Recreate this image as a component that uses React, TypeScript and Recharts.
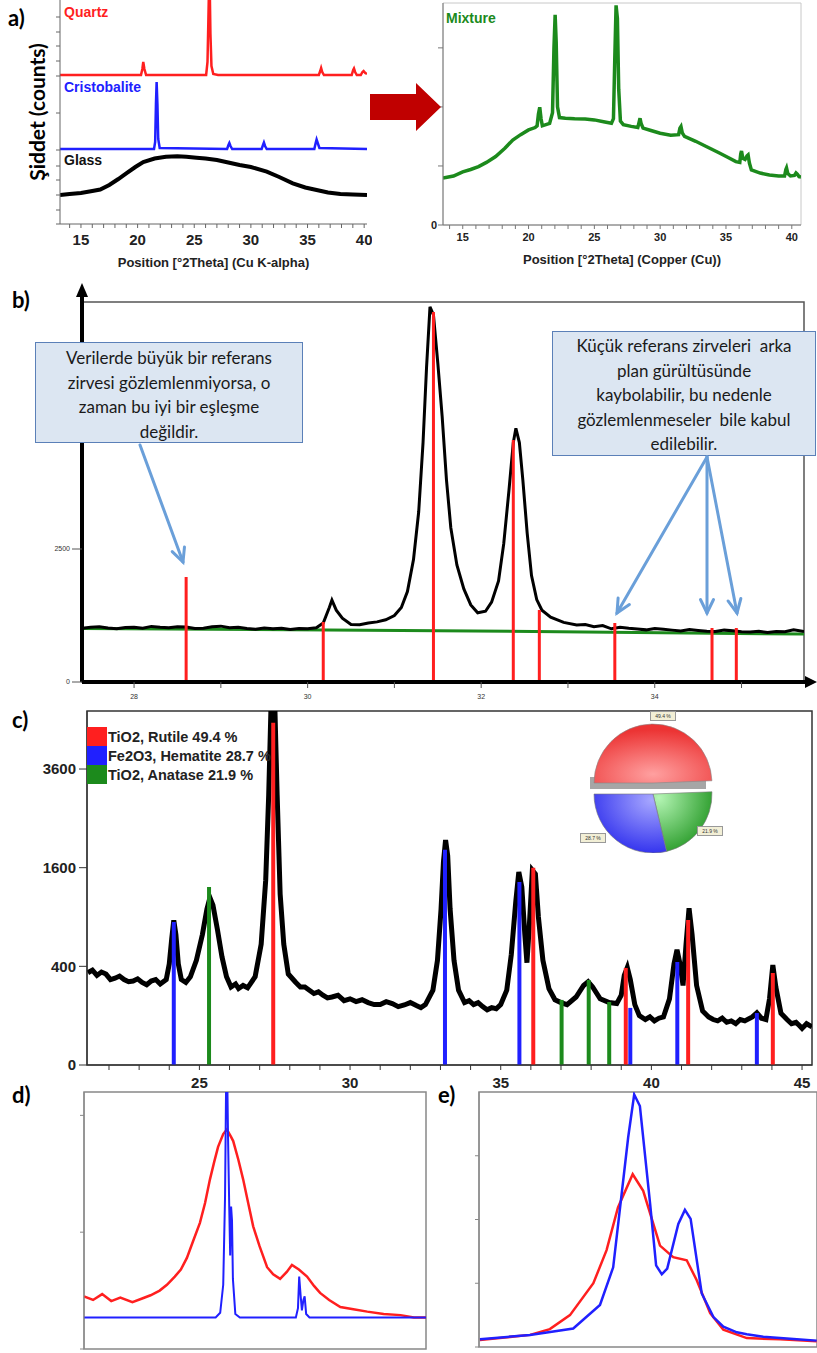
import React from 'react'
import {
  LineChart, ComposedChart, Line, XAxis, YAxis, ReferenceLine, ReferenceArea, PieChart, Pie, Cell,
} from 'recharts'

type Pt = [number, number]

// panel a: reference patterns (stacked, arbitrary units)
const quartz: Pt[] = [
  [13.15, 149], [20.3, 149], [20.42, 155], [20.5, 162], [20.6, 155], [20.75, 149], [26.05, 149], [26.17, 162],
  [26.24, 200], [26.3, 235], [26.37, 235], [26.43, 190], [26.52, 158], [26.68, 150], [27.1, 149], [36.0, 149],
  [36.12, 153], [36.2, 156], [36.3, 152], [36.45, 149], [38.9, 149], [39.03, 154], [39.1, 155.5], [39.2, 152],
  [39.35, 149], [39.7, 149], [39.85, 152], [39.95, 153], [40.1, 151], [40.25, 150],
]
const cristobalite: Pt[] = [
  [13.15, 75], [21.45, 75], [21.55, 82], [21.62, 120], [21.68, 142], [21.75, 120], [21.82, 85], [21.95, 76],
  [27.9, 75], [28.02, 79], [28.1, 81], [28.2, 78], [28.35, 75], [30.95, 75], [31.07, 79], [31.15, 81.5],
  [31.25, 78], [31.4, 75], [35.6, 75], [35.72, 81], [35.8, 84.5], [35.9, 81], [36.05, 76], [40.25, 75],
]
const glass: Pt[] = [
  [13.15, 29], [14, 30], [15, 31], [16, 33], [16.7, 34.5], [17.5, 39], [18.3, 45], [19, 50.7], [19.8, 57],
  [20.5, 62], [21.5, 65.5], [22.5, 67.3], [23.5, 67.8], [24.3, 67.3], [25.2, 66.3], [26, 65.5], [27, 64],
  [28, 61.5], [29, 59], [30, 57], [31.4, 52.3], [32.5, 47], [33.7, 40.7], [34.8, 36.5], [35.8, 34],
  [36.8, 31.5], [37.9, 30], [39, 29.5], [40.25, 29],
]
const aLeftTicksX = [14, 15, 16, 17, 18, 19, 20, 21, 22, 23, 24, 25, 26, 27, 28, 29, 30, 31, 32, 33, 34, 35, 36, 37, 38, 39, 40]
const aLeftTicksY = [0, 14, 29, 44, 58, 74, 111, 148, 163, 178, 192, 207]

const mixture: Pt[] = [
  [13.5, 797], [14.3, 830], [15, 900], [15.6, 940], [16.2, 990], [16.8, 1060], [17.5, 1160], [18.2, 1300],
  [18.8, 1440], [19.4, 1530], [20, 1610], [20.5, 1650], [20.65, 1680], [20.75, 1880], [20.85, 1995], [20.95, 1800],
  [21.05, 1680], [21.6, 1720], [21.82, 1900], [21.93, 3000], [22.02, 3560], [22.1, 3100], [22.2, 2000],
  [22.35, 1820], [22.8, 1810], [23.5, 1800], [24.3, 1795], [25, 1780], [25.7, 1750], [26.3, 1725], [26.45, 1800],
  [26.55, 2800], [26.65, 3720], [26.75, 3500], [26.85, 2300], [26.98, 1760], [27.2, 1700], [27.8, 1670],
  [28.3, 1650], [28.4, 1740], [28.47, 1808], [28.55, 1720], [28.7, 1640], [29.3, 1600], [30, 1555], [30.8, 1520],
  [31.4, 1530], [31.5, 1640], [31.58, 1667], [31.68, 1560], [31.85, 1500], [32.7, 1418], [33.5, 1330],
  [34.5, 1220], [35.2, 1140], [35.75, 1073], [36.05, 1060], [36.12, 1200], [36.18, 1254], [36.28, 1130],
  [36.45, 1110], [36.6, 1170], [36.68, 1186], [36.78, 1050], [36.93, 932], [37.6, 880], [38.3, 847], [39, 830],
  [39.45, 830], [39.55, 940], [39.6, 966], [39.7, 870], [39.9, 830], [40.2, 840], [40.32, 881], [40.42, 860],
  [40.55, 820], [40.7, 814],
]
const aRightTicksX = [14, 15, 16, 17, 18, 19, 20, 21, 22, 23, 24, 25, 26, 27, 28, 29, 30, 31, 32, 33, 34, 35, 36, 37, 38, 39, 40]
const aRightTicksY = [0, 1000, 2000, 3000]

// panel b
const bObserved: Pt[] = [
  [27.4, 1010], [27.5, 1030], [27.6, 1040], [27.7, 1015], [27.8, 1000], [27.9, 1025], [28, 1030], [28.1, 1010],
  [28.2, 1045], [28.3, 1030], [28.4, 1020], [28.5, 1040], [28.6, 1035], [28.7, 1005], [28.8, 1010], [28.9, 1040],
  [29, 1050], [29.1, 1020], [29.2, 1030], [29.3, 1005], [29.4, 990], [29.5, 1015], [29.6, 1000], [29.7, 1010],
  [29.8, 985], [29.9, 1005], [30, 1000], [30.1, 1020], [30.18, 1110],
  [30.25, 1400], [30.28, 1540], [30.33, 1350], [30.4, 1200], [30.5, 1080], [30.6, 1075], [30.7, 1110],
  [30.8, 1130], [30.9, 1170], [31.0, 1250], [31.08, 1400], [31.15, 1700], [31.22, 2300], [31.28, 3200],
  [31.33, 4500], [31.37, 5900], [31.41, 7050], [31.45, 6900], [31.5, 6000], [31.55, 5000], [31.6, 3800],
  [31.65, 2900], [31.72, 2200], [31.8, 1750], [31.88, 1450], [31.96, 1300], [32.05, 1330], [32.12, 1500],
  [32.2, 1900], [32.26, 2600], [32.32, 3600], [32.37, 4500], [32.4, 4770], [32.44, 4500], [32.48, 3800],
  [32.53, 2800], [32.58, 2000], [32.64, 1550], [32.7, 1350], [32.8, 1220], [32.95, 1120], [33.1, 1070],
  [33.2, 1080], [33.3, 1040], [33.4, 1060], [33.5, 1000], [33.6, 1030], [33.7, 1010], [33.8, 995], [33.9, 980],
  [34.0, 1005], [34.1, 990], [34.2, 975], [34.3, 960], [34.4, 985], [34.5, 970], [34.6, 955], [34.7, 950],
  [34.8, 975], [34.9, 965], [35.0, 945], [35.1, 940], [35.2, 955], [35.3, 930], [35.4, 950], [35.5, 945],
  [35.6, 980], [35.72, 950],
]
const bBackground: Pt[] = [[27.4, 1005], [31.5, 965], [35.72, 900]]
const bRefPos = [28.6, 30.18, 31.45, 32.37, 32.67, 33.54, 34.66, 34.94]
const bRefHeight = [1974, 1128, 6955, 4549, 1353, 1109, 1015, 1015]
const bTicksX = [28, 29, 30, 31, 32, 33, 34, 35]
const bTicksY = [0, 2500]

// panel c
const cObserved: Pt[] = [
  [21.3, 350], [21.45, 370], [21.6, 330], [21.75, 355], [21.9, 340], [22.05, 300], [22.2, 310], [22.35, 325],
  [22.5, 300], [22.65, 285], [22.8, 290], [22.95, 305], [23.1, 280], [23.25, 265], [23.4, 290], [23.55, 300],
  [23.7, 270], [23.9, 300], [24.0, 420], [24.08, 650], [24.15, 860], [24.22, 700], [24.3, 420], [24.4, 300],
  [24.55, 280], [24.7, 320], [24.9, 450], [25.1, 700], [25.25, 1000], [25.35, 1150], [25.45, 1050], [25.6, 750],
  [25.75, 480], [25.9, 320], [26.05, 250], [26.2, 270], [26.3, 240], [26.45, 260], [26.6, 245], [26.85, 320],
  [27.05, 600], [27.2, 1400], [27.3, 3000], [27.38, 5400], [27.5, 5400], [27.58, 3000], [27.68, 1200],
  [27.8, 600], [27.95, 340], [28.2, 280], [28.35, 250], [28.5, 250], [28.65, 230], [28.8, 210], [28.95, 220],
  [29.1, 200], [29.25, 185], [29.4, 190], [29.6, 200], [29.8, 170], [30.0, 180], [30.2, 165], [30.4, 175],
  [30.6, 160], [30.8, 150], [31, 150], [31.2, 165], [31.4, 155], [31.6, 140], [31.8, 148], [32.0, 160],
  [32.2, 145], [32.35, 135], [32.5, 150], [32.75, 230], [32.9, 450], [33.02, 1000],
  [33.1, 1700], [33.17, 2080], [33.24, 1800], [33.32, 1000], [33.45, 450], [33.6, 230], [33.8, 160],
  [33.95, 170], [34.1, 150], [34.25, 160], [34.4, 140], [34.55, 125], [34.7, 135], [34.85, 130], [35.0, 150],
  [35.2, 230], [35.35, 500], [35.5, 1100], [35.6, 1530],
  [35.7, 1300], [35.8, 700], [35.87, 430], [35.95, 800], [36.05, 1560], [36.15, 1500], [36.25, 900],
  [36.4, 450], [36.6, 240], [36.8, 175], [37.0, 160], [37.2, 150], [37.5, 190], [37.75, 260], [37.9, 285],
  [38.05, 250], [38.3, 180], [38.6, 160], [38.85, 155], [39.0, 200], [39.1, 330], [39.2, 390], [39.3, 300],
  [39.45, 150], [39.6, 100], [39.8, 85], [39.95, 95], [40.1, 80], [40.25, 90], [40.4, 95], [40.6, 180],
  [40.75, 420], [40.85, 545], [40.95, 420], [41.05, 260], [41.15, 600], [41.25, 1010], [41.35, 700], [41.5, 260],
  [41.7, 120], [41.9, 95], [42.05, 85], [42.2, 80], [42.35, 90], [42.5, 75], [42.65, 80], [42.8, 70],
  [42.95, 85], [43.1, 80], [43.35, 95], [43.5, 112], [43.65, 90], [43.8, 85], [43.92, 180], [44.03, 410],
  [44.13, 250], [44.3, 110], [44.5, 85], [44.65, 70], [44.8, 75], [44.95, 60], [45.0, 55], [45.15, 70], [45.33, 60],
]
const rutilePos = [27.45, 36.08, 39.15, 41.22, 44.03]
const rutileH = [4812, 1597, 387, 865, 348]
const hematitePos = [24.15, 33.15, 35.62, 39.3, 40.86, 43.5]
const hematiteH = [841, 1902, 1378, 134, 436, 111]
const anatasePos = [25.32, 37.02, 37.92, 38.6]
const anataseH = [1303, 174, 297, 163]
const cTicksX = [22, 23, 24, 25, 26, 27, 28, 29, 30, 31, 32, 33, 34, 35, 36, 37, 38, 39, 40, 41, 42, 43, 44, 45]
const cTicksY = [0, 400, 1600, 3600]
const phaseNames = ['TiO2, Rutile 49.4 %', 'Fe2O3, Hematite 28.7 %', 'TiO2, Anatase 21.9 %']
const phaseShare = [49.4, 28.7, 21.9]
const phaseLabels = ['49.4 %', '28.7 %', '21.9 %']

// panel d
const dBroad: Pt[] = [
  [21.2, 0.45], [21.5, 0.42], [21.8, 0.47], [22.1, 0.41], [22.4, 0.44], [22.8, 0.4], [23.1, 0.43], [23.4, 0.46],
  [23.7, 0.5], [23.94, 0.55], [24.2, 0.62], [24.4, 0.68], [24.6, 0.78], [24.8, 0.92], [25.03, 1.08], [25.2, 1.25],
  [25.36, 1.45], [25.5, 1.6], [25.63, 1.73], [25.8, 1.84], [25.92, 1.88], [26.05, 1.82], [26.13, 1.78],
  [26.3, 1.62], [26.46, 1.45], [26.6, 1.28], [26.79, 1.05], [27.0, 0.88], [27.25, 0.7], [27.45, 0.64],
  [27.68, 0.6], [27.9, 0.66], [28.07, 0.72], [28.3, 0.68], [28.57, 0.62], [28.8, 0.54], [29.0, 0.48],
  [29.3, 0.42], [29.67, 0.36], [30.1, 0.34], [30.56, 0.32], [31.1, 0.3], [31.66, 0.29], [32.1, 0.27], [32.5, 0.27],
]
const dSharp: Pt[] = [
  [21.2, 0.27], [25.55, 0.27], [25.7, 0.31], [25.8, 0.55], [25.86, 1.3], [25.9, 2.4], [25.93, 2.4], [25.96, 1.8],
  [26.0, 1.2], [26.03, 0.8], [26.06, 1.22], [26.09, 1.1], [26.12, 0.6], [26.2, 0.3], [26.35, 0.27], [28.2, 0.27],
  [28.27, 0.35], [28.31, 0.62], [28.36, 0.45], [28.4, 0.33], [28.45, 0.42], [28.49, 0.45], [28.54, 0.3],
  [28.65, 0.27], [32.5, 0.27],
]
const dTicksBottom = [1, 2, 3, 4, 5, 6, 7, 8, 9, 10, 11, 12, 13]
const dTicksY = [0, 1, 2]

// panel e
const eBroad: Pt[] = [
  [34.4, 0.11], [36.07, 0.19], [36.73, 0.28], [37.4, 0.5], [38.18, 1.0], [38.62, 1.52], [39.0, 2.19],
  [39.49, 2.71], [39.84, 2.45], [40.4, 1.59], [40.84, 1.41], [41.29, 1.36], [41.62, 1.05], [42.07, 0.53],
  [42.51, 0.27], [43.29, 0.14], [44.4, 0.12], [45.62, 0.09],
]
const eSharp: Pt[] = [
  [34.4, 0.12], [36.07, 0.19], [37.51, 0.29], [38.4, 0.66], [38.84, 1.25], [39.34, 3.29], [39.54, 3.96],
  [39.73, 3.78], [40.07, 2.25], [40.27, 1.28], [40.46, 1.14], [40.64, 1.23], [41.01, 1.93], [41.23, 2.15],
  [41.42, 2.01], [41.79, 0.84], [42.18, 0.47], [42.51, 0.32], [42.96, 0.23], [43.29, 0.2], [43.84, 0.16],
  [44.96, 0.12], [45.62, 0.1],
]
const eTicksBottom = [38.5, 44.05]
const eTicksY = [0, 1, 2, 3]

const RED = '#ff1f1f'
const BLUE = '#2020ff'
const GREEN = '#1c8a1c'
const SANS = '"Liberation Sans", Arial, sans-serif'
const CAL = 'Lato, "Open Sans", sans-serif'

const pts = (a: Pt[]) => a.map(([x, y]) => ({ x, y }))
const blank = () => ''
const everyFifth = (v: number) => (v % 5 === 0 ? String(v) : '')
const abs = (left: number, top: number): React.CSSProperties => ({ position: 'absolute', left, top })

function PanelA() {
  return (
    <>
      <div style={abs(0, 0)}>
        <LineChart width={372} height={270} margin={{ top: 0, right: 5, bottom: 0, left: 0 }}>
          <XAxis type="number" dataKey="x" domain={[13.15, 40.25]} allowDataOverflow ticks={aLeftTicksX} interval={0}
            tickFormatter={everyFifth} height={46} tickSize={4} tickMargin={6} stroke="#666"
            tick={{ fontSize: 15, fontWeight: 700, fill: '#222', fontFamily: SANS }}
            label={{ value: 'Position [°2Theta] (Cu K-alpha)', position: 'insideBottom', offset: 3, fill: '#222', fontSize: 13, fontWeight: 700, fontFamily: SANS }} />
          <YAxis type="number" domain={[0, 224]} allowDataOverflow ticks={aLeftTicksY} interval={0} tickFormatter={blank}
            width={60} tickSize={4} stroke="#666" />
          <Line data={pts(glass)} dataKey="y" stroke="#000" strokeWidth={4} dot={false} isAnimationActive={false} />
          <Line data={pts(cristobalite)} dataKey="y" stroke={BLUE} strokeWidth={2.5} dot={false} isAnimationActive={false} />
          <Line data={pts(quartz)} dataKey="y" stroke={RED} strokeWidth={2.5} dot={false} isAnimationActive={false} />
        </LineChart>
      </div>
      <div style={abs(400, 0)}>
        <LineChart width={405} height={270} margin={{ top: 3, right: 4, bottom: 0, left: 0 }}>
          <XAxis type="number" dataKey="x" domain={[13.5, 40.7]} allowDataOverflow ticks={aRightTicksX} interval={0}
            tickFormatter={everyFifth} height={45} tickSize={4} tickMargin={4} stroke="#777"
            tick={{ fontSize: 11, fontWeight: 700, fill: '#222', fontFamily: SANS }}
            label={{ value: 'Position [°2Theta] (Copper (Cu))', position: 'insideBottom', offset: 6, fill: '#222', fontSize: 13, fontWeight: 700, fontFamily: SANS }} />
          <YAxis type="number" domain={[0, 3760]} allowDataOverflow ticks={aRightTicksY} interval={0}
            tickFormatter={(v: number) => (v === 0 ? '0' : '')} width={43} tickSize={5} tickMargin={1} stroke="#777"
            tick={{ fontSize: 11, fontWeight: 700, fill: '#222', fontFamily: SANS }} />
          <ReferenceArea x1={13.5} x2={40.7} y1={0} y2={3760} fill="none" stroke="#c8c8c8" strokeWidth={1} />
          <Line data={pts(mixture)} dataKey="y" stroke={GREEN} strokeWidth={3.5} dot={false} isAnimationActive={false} />
        </LineChart>
      </div>
    </>
  )
}

function PanelB() {
  return (
    <div style={abs(0, 280)}>
      <ComposedChart width={817} height={430} margin={{ top: 22, right: 13, bottom: 0, left: 0 }}>
        <XAxis type="number" dataKey="x" domain={[27.4, 35.72]} allowDataOverflow ticks={bTicksX} interval={0}
          tickFormatter={(v: number) => (v % 2 === 0 ? String(v) : '')} height={28} tickSize={6} tickMargin={6}
          axisLine={{ stroke: '#000', strokeWidth: 4 }} tickLine={{ stroke: '#555' }}
          tick={{ fontSize: 7, fill: '#333', fontFamily: SANS }} />
        <YAxis type="number" domain={[0, 7143]} allowDataOverflow ticks={bTicksY} width={82} tickSize={10} tickMargin={2}
          axisLine={{ stroke: '#000', strokeWidth: 4 }} tickLine={{ stroke: '#555' }}
          tick={{ fontSize: 7, fill: '#333', fontFamily: SANS }} />
        <ReferenceArea x1={27.4} x2={35.72} y1={0} y2={7143} fill="none" stroke="#555" strokeWidth={1.5} />
        <Line data={pts(bBackground)} dataKey="y" stroke={GREEN} strokeWidth={3} dot={false} isAnimationActive={false} />
        <Line data={pts(bObserved)} dataKey="y" stroke="#000" strokeWidth={3} dot={false} isAnimationActive={false} />
        {bRefPos.map((x, i) => (
          <ReferenceLine key={i} segment={[{ x, y: 0 }, { x, y: bRefHeight[i] }]} stroke={RED} strokeWidth={3} />
        ))}
      </ComposedChart>
    </div>
  )
}

function PanelC() {
  const sticks = (pos: number[], h: number[], color: string) =>
    pos.map((x, i) => (
      <ReferenceLine key={color + i} segment={[{ x, y: 0 }, { x, y: h[i] }]} stroke={color} strokeWidth={4} />
    ))
  return (
    <div style={abs(0, 705)}>
      <ComposedChart width={817} height={400} margin={{ top: 6, right: 5, bottom: 0, left: 0 }}>
        <XAxis type="number" dataKey="x" domain={[21.27, 45.33]} allowDataOverflow ticks={cTicksX} interval={0}
          tickFormatter={everyFifth} height={40} tickSize={5} tickMargin={7} stroke="#333"
          tick={{ fontSize: 15, fontWeight: 700, fill: '#222', fontFamily: SANS }} />
        <YAxis type="number" scale="sqrt" domain={[0, 5150]} allowDataOverflow ticks={cTicksY} interval={0} width={87}
          tickSize={8} tickMargin={3} stroke="#333"
          tick={{ fontSize: 15, fontWeight: 700, fill: '#222', fontFamily: SANS }} />
        <ReferenceArea x1={21.27} x2={45.33} y1={0} y2={5150} fill="none" stroke="#333" strokeWidth={1.5} />
        <Line data={pts(cObserved)} dataKey="y" stroke="#000" strokeWidth={5} dot={false} isAnimationActive={false} />
        {sticks(hematitePos, hematiteH, BLUE)}
        {sticks(anatasePos, anataseH, GREEN)}
        {sticks(rutilePos, rutileH, RED)}
      </ComposedChart>
      {/* legend */}
      {phaseNames.map((name, i) => (
        <div key={name} style={{ position: 'absolute', left: 87, top: 22 + i * 19, display: 'flex', alignItems: 'center' }}>
          <div style={{ width: 20, height: 19, background: [RED, BLUE, GREEN][i] }} />
          <span style={{ marginLeft: 1, font: `700 14.5px ${SANS}`, color: '#222' }}>{name}</span>
        </div>
      ))}
      {/* phase pie */}
      <div style={{ position: 'absolute', left: 590, top: 72, width: 116, height: 12, background: '#a6a6a6' }} />
      <div style={abs(568, 8)}>
        <PieChart width={160} height={140}>
          <defs>
            <radialGradient id="gRed" cx="50%" cy="85%" r="75%">
              <stop offset="0%" stopColor="#ffa0a0" />
              <stop offset="100%" stopColor="#ec3434" />
            </radialGradient>
            <radialGradient id="gBlue" cx="80%" cy="10%" r="90%">
              <stop offset="0%" stopColor="#a8a8ff" />
              <stop offset="100%" stopColor="#3535ee" />
            </radialGradient>
            <radialGradient id="gGreen" cx="10%" cy="10%" r="90%">
              <stop offset="0%" stopColor="#b4f5b4" />
              <stop offset="100%" stopColor="#34a234" />
            </radialGradient>
          </defs>
          <Pie data={[{ v: phaseShare[0] }, { v: phaseShare[1] + phaseShare[2] }]} dataKey="v" cx={80} cy={65}
            outerRadius={59} startAngle={180} endAngle={-180} isAnimationActive={false} stroke="none">
            <Cell fill="url(#gRed)" stroke="#888" strokeWidth={0.6} />
            <Cell fill="none" stroke="none" />
          </Pie>
          <Pie data={[{ v: phaseShare[0] }, { v: phaseShare[2] }, { v: phaseShare[1] }]} dataKey="v" cx={80} cy={76}
            outerRadius={59} startAngle={180} endAngle={-180} isAnimationActive={false} stroke="none">
            <Cell fill="none" stroke="none" />
            <Cell fill="url(#gGreen)" stroke="#777" strokeWidth={0.6} />
            <Cell fill="url(#gBlue)" stroke="#777" strokeWidth={0.6} />
          </Pie>
        </PieChart>
      </div>
      {[[650, 6], [580, 128], [697, 121]].map(([l, t], i) => (
        <div key={i} style={{
          position: 'absolute', left: l, top: t, width: 24, height: 8, background: '#f2efd6', border: '1px solid #999',
          font: `5px ${SANS}`, lineHeight: '8px', textAlign: 'center', color: '#333',
        }}>{phaseLabels[i]}</div>
      ))}
    </div>
  )
}

function PanelD() {
  // the 25 / 30 labels above this box belong to panel c's axis
  return (
    <div style={abs(0, 1075)}>
      <ComposedChart width={430} height={278} margin={{ top: 17, right: 4, bottom: 0, left: 0 }}>
        <XAxis type="number" dataKey="x" domain={[21.2, 32.5]} allowDataOverflow hide />
        <XAxis xAxisId="bot" type="number" domain={[0.7, 13.5]} allowDataOverflow ticks={dTicksBottom} interval={0}
          tickFormatter={blank} height={4} tickSize={4} stroke="#888" />
        <YAxis type="number" domain={[0, 2.2]} allowDataOverflow ticks={dTicksY} interval={0} tickFormatter={blank}
          width={84} tickSize={4} stroke="#888" />
        <ReferenceArea x1={21.2} x2={32.5} y1={0} y2={2.2} fill="none" stroke="#888" strokeWidth={1.5} />
        <Line data={pts(dBroad)} dataKey="y" stroke={RED} strokeWidth={2.5} dot={false} isAnimationActive={false} />
        <Line data={pts(dSharp)} dataKey="y" stroke={BLUE} strokeWidth={2} dot={false} isAnimationActive={false} />
      </ComposedChart>
    </div>
  )
}

function PanelE() {
  return (
    <div style={abs(440, 1075)}>
      <ComposedChart width={377} height={278} margin={{ top: 17, right: 0, bottom: 0, left: 0 }}>
        <XAxis type="number" dataKey="x" domain={[34.37, 45.63]} allowDataOverflow hide />
        <XAxis xAxisId="bot" type="number" domain={[34.37, 45.63]} allowDataOverflow ticks={eTicksBottom} interval={0}
          tickFormatter={blank} height={6} tickSize={4} stroke="#888" />
        <YAxis type="number" domain={[0, 4]} allowDataOverflow ticks={eTicksY} interval={0} tickFormatter={blank}
          width={39} tickSize={4} stroke="#888" />
        <ReferenceArea x1={34.37} x2={45.63} y1={0} y2={4} fill="none" stroke="#888" strokeWidth={1.5} />
        <Line data={pts(eBroad)} dataKey="y" stroke={RED} strokeWidth={2.5} dot={false} isAnimationActive={false} />
        <Line data={pts(eSharp)} dataKey="y" stroke={BLUE} strokeWidth={2.5} dot={false} isAnimationActive={false} />
      </ComposedChart>
    </div>
  )
}

const calloutLeft = ['Verilerde büyük bir referans', 'zirvesi gözlemlenmiyorsa, o', 'zaman bu iyi bir eşleşme', 'değildir.']
const calloutRight = ['Küçük referans zirveleri  arka', 'plan gürültüsünde', 'kaybolabilir, bu nedenle', 'gözlemlenmeseler  bile kabul', 'edilebilir.']

function Callout({ lines, left, top, width, height, pad }: { lines: string[]; left: number; top: number; width: number; height: number; pad: number }) {
  return (
    <div style={{
      position: 'absolute', left, top, width, height, boxSizing: 'border-box', paddingTop: pad,
      background: '#dce6f2', border: '1.5px solid #5b80b8', textAlign: 'center',
      font: `17px ${CAL}`, lineHeight: '24.6px', color: '#1a1a1a', whiteSpace: 'pre',
    }}>
      {lines.map(l => <div key={l}>{l}</div>)}
    </div>
  )
}

function head(x1: number, y1: number, x2: number, y2: number, len = 15, ang = 0.45) {
  const a = Math.atan2(y2 - y1, x2 - x1)
  const p1 = [x2 - len * Math.cos(a - ang), y2 - len * Math.sin(a - ang)]
  const p2 = [x2 - len * Math.cos(a + ang), y2 - len * Math.sin(a + ang)]
  return `${p1[0]},${p1[1]} ${x2},${y2} ${p2[0]},${p2[1]}`
}

const arrows = [
  [140, 445, 183, 562],
  [707, 457, 617, 613],
  [707, 457, 707, 613],
  [707, 457, 737, 613],
]

function Overlay() {
  const letter = { fontFamily: CAL, fontWeight: 700, fontSize: 22, fill: '#000' }
  const tag = { fontFamily: SANS, fontWeight: 700, fontSize: 14 }
  return (
    <svg width={817} height={1353} style={{ position: 'absolute', left: 0, top: 0, pointerEvents: 'none' }}>
      <text x={8} y={26} {...letter}>a)</text>
      <text x={12} y={308} {...letter}>b)</text>
      <text x={12} y={728} {...letter}>c)</text>
      <text x={12} y={1103} {...letter}>d)</text>
      <text x={438} y={1103} {...letter}>e)</text>
      <text x={36} y={112} transform="rotate(-90 36 112)" textAnchor="middle" dominantBaseline="central"
        fontFamily={CAL} fontWeight={700} fontSize={21}>Şiddet (counts)</text>
      <text x={64} y={17} {...tag} fill={RED}>Quartz</text>
      <text x={64} y={92} {...tag} fill={BLUE}>Cristobalite</text>
      <text x={64} y={165} {...tag} fill="#111">Glass</text>
      <text x={446} y={23} {...tag} fill={GREEN}>Mixture</text>
      {/* transition arrow a */}
      <polygon points="370,94 416,94 416,83 441,107 416,131 416,120 370,120" fill="#c00000" />
      {/* axis arrows b */}
      <line x1={82} y1={303} x2={82} y2={292} stroke="#000" strokeWidth={4} />
      <polygon points="76,297 82,283 88,297" fill="#000" />
      <line x1={803} y1={682} x2={809} y2={682} stroke="#000" strokeWidth={4} />
      <polygon points="805,676 817,682 805,688" fill="#000" />
      {arrows.map(([x1, y1, x2, y2], i) => (
        <g key={i} stroke="#6a9fd9" strokeWidth={3} fill="none" strokeLinecap="round">
          <line x1={x1} y1={y1} x2={x2} y2={y2} />
          <polyline points={head(x1, y1, x2, y2)} />
        </g>
      ))}
    </svg>
  )
}

export default function App() {
  return (
    <div style={{ position: 'absolute', left: 0, top: 0, width: 817, height: 1353, background: '#fff', overflow: 'hidden' }}>
      <PanelA />
      <PanelB />
      <PanelC />
      <PanelD />
      <PanelE />
      <Callout lines={calloutLeft} left={35} top={342} width={268} height={101} pad={3} />
      <Callout lines={calloutRight} left={552} top={331} width={264} height={125} pad={2} />
      <Overlay />
    </div>
  )
}
